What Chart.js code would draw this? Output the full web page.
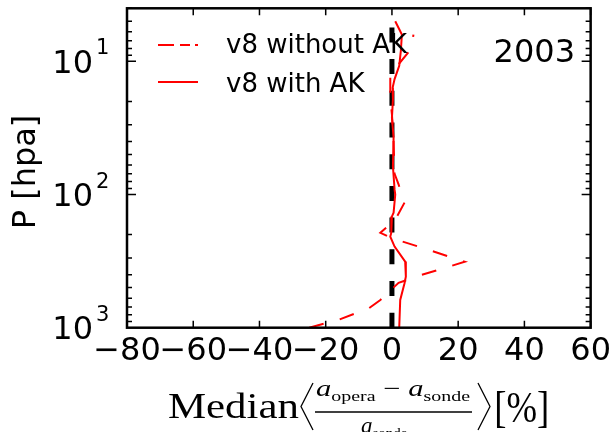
<!DOCTYPE html>
<html><head><meta charset="utf-8">
<script src="https://cdn.jsdelivr.net/npm/chart.js@4"></script>
<style>html,body{margin:0;padding:0;background:#fff}canvas{display:block}</style>
</head><body>
<canvas id="c" width="616" height="432"></canvas>
<script>
// ---- data ----
const pressureWithAK = [5, 6.3, 8.3, 10.8, 13.6, 15.8, 19.4, 26.5, 37.5, 61.5, 92, 100, 137, 146, 194, 207, 246, 319, 414, 464, 619, 1000];
const medianWithAK   = [1.0, 3.0, 2.7, 2.2, 0.8, 0.2, 0.3, 0.0, 0.5, 0.3, 0.8, 1.0, 0.5, 0.0, -0.2, -0.5, 0.8, 4.0, 4.2, 3.8, 2.5, 2.2];
const pressureWithoutAK = [1000, 870, 716, 620, 460, 401, 320, 253, 213, 194, 155, 115, 84, 70, 40, 25, 19, 12.5, 8.1, 6.3];
const medianWithoutAK   = [-25, -16, -7, -3.5, 2, 9, 22, 9.5, 0, -3.5, 1.0, 3.8, 2.0, 0.8, 0.5, 0, -0.5, -0.5, 5.8, 6.5];
const zeroLinePressure = [1000, 5];
const zeroLineValue = [0, 0];
const xTickValues = [-80, -60, -40, -20, 0, 20, 40, 60];
const yTickValues = [10, 100, 1000];
const yTickExponents = ['1', '2', '3'];
const seriesNames = ['v8 without AK', 'v8 with AK'];
const yearLabel = '2003';
const yAxisTitle = 'P [hpa]';

function formatTick(v){ return v < 0 ? '\u2212' + Math.abs(v) : String(v); }

function drawInBox(ctx, text, font, x0, y0, x1, y1){
  ctx.save();
  ctx.font = font;
  ctx.textBaseline = 'alphabetic';
  ctx.textAlign = 'left';
  const m = ctx.measureText(text);
  const w = m.actualBoundingBoxLeft + m.actualBoundingBoxRight;
  const h = m.actualBoundingBoxAscent + m.actualBoundingBoxDescent;
  const sx = (x1 - x0) / w, sy = (y1 - y0) / h;
  ctx.translate(x0, y0);
  ctx.scale(sx, sy);
  ctx.fillText(text, m.actualBoundingBoxLeft, m.actualBoundingBoxAscent);
  ctx.restore();
}

const decor = {
  id: 'decor',
  afterDraw(chart){
    const ctx = chart.ctx;
    const a = chart.chartArea;
    const xs = chart.scales.x, ys = chart.scales.y;
    ctx.save();
    ctx.strokeStyle = '#000';
    ctx.fillStyle = '#000';
    // ticks (inside)
    ctx.lineWidth = 1.5;
    ctx.beginPath();
    xTickValues.forEach(v => {
      const px = xs.getPixelForValue(v);
      ctx.moveTo(px, a.bottom); ctx.lineTo(px, a.bottom - 7);
      ctx.moveTo(px, a.top); ctx.lineTo(px, a.top + 7);
    });
    [1, 10, 100].forEach(d => {
      for (let m = 1; m <= 9; m++) {
        const v = m * d;
        if (v < ys.min || v > ys.max) continue;
        const py = ys.getPixelForValue(v);
        const len = m === 1 ? 9 : 5;
        ctx.moveTo(a.left, py); ctx.lineTo(a.left + len, py);
        ctx.moveTo(a.right, py); ctx.lineTo(a.right - len, py);
      }
    });
    ctx.stroke();
    // frame
    ctx.lineWidth = 2.5;
    ctx.strokeRect(a.left, a.top, a.right - a.left, a.bottom - a.top);

    // y tick labels 10^n
    yTickValues.forEach((v, i) => {
      const py = ys.getPixelForValue(v);
      ctx.font = '32px "DejaVu Sans"';
      ctx.textAlign = 'right';
      ctx.textBaseline = 'alphabetic';
      ctx.fillText('10', 93, py + 11.5);
      ctx.font = '21px "DejaVu Sans"';
      ctx.textAlign = 'left';
      ctx.fillText(yTickExponents[i], 96, py - 7);
    });

    // y axis title
    ctx.save();
    ctx.translate(35, 172);
    ctx.rotate(-Math.PI / 2);
    ctx.font = '32px "DejaVu Sans"';
    ctx.textAlign = 'center';
    ctx.textBaseline = 'alphabetic';
    ctx.fillText(yAxisTitle, 0, 0);
    ctx.restore();

    // year label
    ctx.font = '32px "DejaVu Sans"';
    ctx.textAlign = 'right';
    ctx.textBaseline = 'alphabetic';
    ctx.fillText(yearLabel, 575, 62);

    // legend
    const ds = chart.data.datasets;
    const rows = [{y: 45, base: 53}, {y: 82, base: 92}];
    rows.forEach((r, i) => {
      ctx.save();
      ctx.strokeStyle = ds[i].borderColor;
      ctx.lineWidth = 2;
      ctx.setLineDash(i === 0 ? [16, 6, 10, 5] : []);
      ctx.beginPath();
      ctx.moveTo(158, r.y); ctx.lineTo(198, r.y);
      ctx.stroke();
      ctx.restore();
      ctx.font = '26px "DejaVu Sans"';
      ctx.textAlign = 'left';
      ctx.fillText(seriesNames[i], 226, r.base);
    });

    // x axis title (math-like)
    drawInBox(ctx, 'Median', '40px "Liberation Serif"', 169, 392, 299, 418);
    drawInBox(ctx, '[%]', '40px "Liberation Serif"', 496, 390, 547, 428);
    // angle delimiters
    ctx.save();
    ctx.lineWidth = 1.3;
    ctx.lineJoin = 'miter';
    ctx.beginPath();
    ctx.moveTo(313, 383); ctx.lineTo(301, 406.5); ctx.lineTo(313, 430);
    ctx.moveTo(478, 383); ctx.lineTo(490, 406.5); ctx.lineTo(478, 430);
    ctx.stroke();
    ctx.restore();
    // numerator
    ctx.save();
    const parts = [
      {t: 'a', f: 'italic 23px "Liberation Serif"', dy: 0},
      {t: 'opera', f: '15px "Liberation Serif"', dy: 5},
      {t: ' \u2212 ', f: '23px "Liberation Serif"', dy: 0},
      {t: 'a', f: 'italic 23px "Liberation Serif"', dy: 0},
      {t: 'sonde', f: '15px "Liberation Serif"', dy: 5}
    ];
    let total = 0;
    parts.forEach(p => { ctx.font = p.f; p.w = ctx.measureText(p.t).width; total += p.w; });
    const nx0 = 316, nx1 = 470;
    const sx = (nx1 - nx0) / total;
    ctx.translate(nx0, 0);
    ctx.scale(sx, 1);
    let cx = 0;
    ctx.textAlign = 'left';
    ctx.textBaseline = 'alphabetic';
    parts.forEach(p => { ctx.font = p.f; ctx.fillText(p.t, cx, 396 + p.dy); cx += p.w; });
    ctx.restore();
    // fraction bar
    ctx.lineWidth = 1.6;
    ctx.beginPath(); ctx.moveTo(315, 412); ctx.lineTo(472, 412); ctx.stroke();
    // denominator
    ctx.font = 'italic 23px "Liberation Serif"';
    ctx.textAlign = 'left';
    const wa = ctx.measureText('a').width;
    ctx.fillText('a', 361, 433);
    ctx.font = '15px "Liberation Serif"';
    ctx.fillText('sonde', 361 + wa, 438);
    ctx.restore();
  }
};

new Chart(document.getElementById('c').getContext('2d'), {
  type: 'scatter',
  data: {
    datasets: [
      {label: seriesNames[0], data: pressureWithoutAK.map((p, i) => ({x: medianWithoutAK[i], y: p})),
       showLine: true, borderColor: '#ff0000', borderWidth: 2, borderDash: [15, 16.7], pointRadius: 0, order: 0},
      {label: seriesNames[1], data: pressureWithAK.map((p, i) => ({x: medianWithAK[i], y: p})),
       showLine: true, borderColor: '#ff0000', borderWidth: 2, pointRadius: 0, order: 1},
      {label: 'zero', data: zeroLinePressure.map((p, i) => ({x: zeroLineValue[i], y: p})),
       showLine: true, borderColor: '#000000', borderWidth: 5, borderDash: [15, 16.7], pointRadius: 0, order: 2}
    ]
  },
  options: {
    responsive: false, animation: false, devicePixelRatio: 1,
    layout: {padding: {top: 8.3, right: 23, left: 0, bottom: 0}},
    plugins: {legend: {display: false}, tooltip: {enabled: false}},
    scales: {
      x: {type: 'linear', min: -80, max: 60,
          grid: {display: false, drawTicks: false}, border: {display: false},
          ticks: {stepSize: 20, autoSkip: false, maxRotation: 0, padding: 5, color: '#000',
                  font: {family: 'DejaVu Sans', size: 32}, callback: v => formatTick(v)},
          afterFit: s => { s.height = 104.3; }},
      y: {type: 'logarithmic', reverse: true, min: 4, max: 1000,
          grid: {display: false, drawTicks: false}, border: {display: false},
          ticks: {display: false},
          afterFit: s => { s.width = 127; }}
    }
  },
  plugins: [decor]
});
</script>
</body></html>
